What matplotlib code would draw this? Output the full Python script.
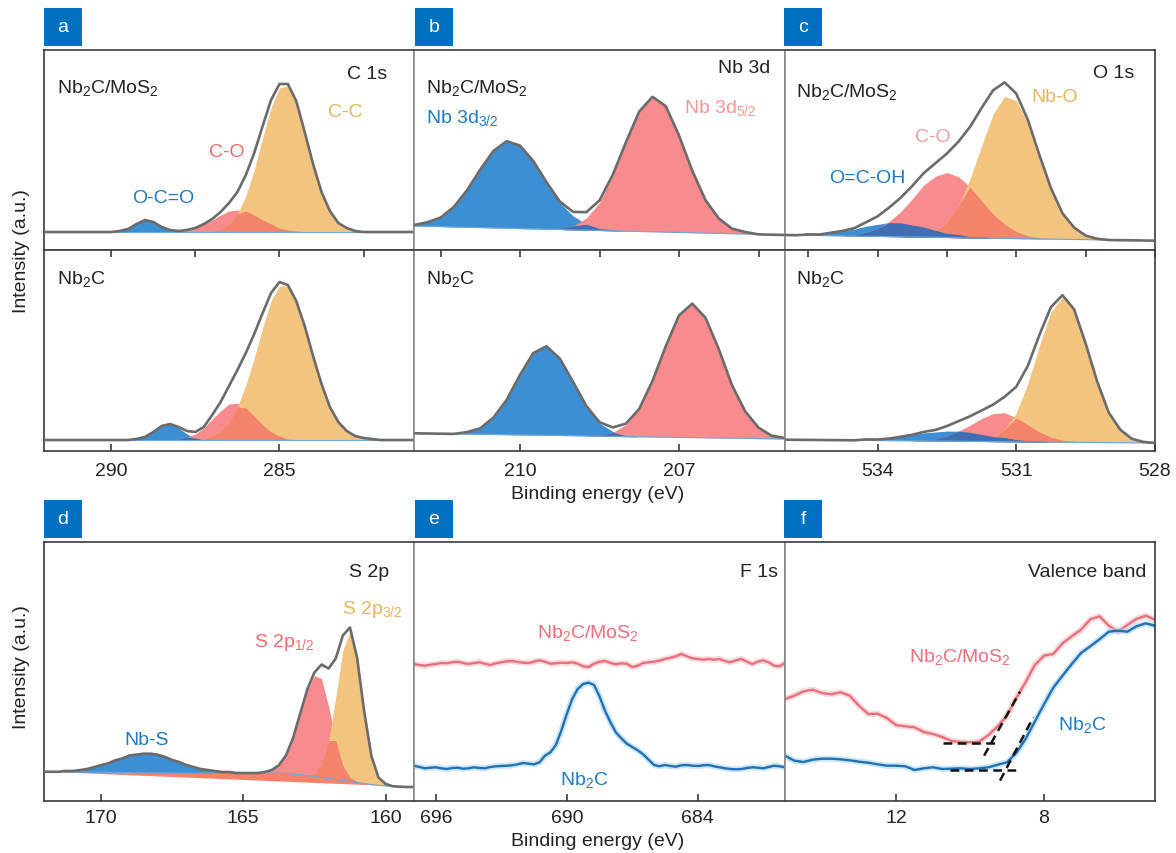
# XPS spectra panels a-f: fitted core levels (C 1s, Nb 3d, O 1s, S 2p), F 1s and valence band
import matplotlib.pyplot as plt
import matplotlib.patheffects as pe
from matplotlib.patches import Rectangle
import numpy as np

plt.rcParams['font.family'] = ['Liberation Sans', 'DejaVu Sans']
plt.rcParams['mathtext.fontset'] = 'custom'
plt.rcParams['mathtext.rm'] = 'Liberation Sans'
plt.rcParams['mathtext.default'] = 'regular'

# ---------------- data (intensity in arbitrary units) ----------------
# panel a, C 1s, energies 281.0 ... 292.0 every 0.25 eV
a_x = np.arange(281.0, 292.01, 0.25)
a_top_base = 18
a_top_cc = [0, 0, 0, 0, 0, 0, 0, 1, 4, 9, 21, 40, 68, 100, 130, 146, 144, 124, 94, 62, 36, 18, 8, 3, 1] + [0] * 20
a_top_co = [0] * 14 + [1, 2, 4, 8, 12, 17, 21, 22, 21, 17, 12, 8, 4, 2, 1] + [0] * 16
a_top_oco = [0] * 29 + [2, 5, 10, 12, 8, 3, 1] + [0] * 9
a_bot_base = 11
a_bot_cc = [0] * 5 + [1, 2, 4, 9, 18, 33, 56, 84, 114, 139, 154, 154, 139, 112, 82, 55, 33, 18, 9, 4, 1] + [0] * 19
a_bot_co = [0] * 15 + [1, 4, 8, 15, 24, 32, 37, 36, 29, 21, 12, 6, 3, 1] + [0] * 16
a_bot_oco = [0] * 26 + [2, 6, 12, 16, 14, 8, 3, 1] + [0] * 11

# panel b, Nb 3d, 205.0 ... 212.0
b_x = np.arange(205.0, 212.01, 0.25)
b_top_base = [15.0, 15.3, 15.6, 16.0, 16.3, 16.6, 16.9, 17.3, 17.6, 17.9, 18.2, 18.5, 18.9, 19.2, 19.5,
              19.8, 20.1, 20.5, 20.8, 21.1, 21.4, 21.8, 22.1, 22.4, 22.7, 23.0, 23.4, 23.7, 24.0]
b_top_32 = [0] * 13 + [1, 2, 6, 14, 27, 47, 68, 83, 87, 77, 58, 37, 20, 9, 4, 1]
b_top_52 = [0, 0, 0, 2, 5, 15, 33, 62, 97, 126, 135, 120, 89, 55, 28, 12, 4, 1] + [0] * 11
b_bot_base = [12.0, 12.2, 12.4, 12.6, 12.8, 13.0, 13.2, 13.4, 13.6, 13.8, 14.0, 14.2, 14.4, 14.6, 14.8,
              15.1, 15.3, 15.5, 15.7, 15.9, 16.1, 16.3, 16.5, 16.7, 16.9, 17.1, 17.3, 17.5, 17.7]
b_bot_32 = [0] * 12 + [1, 5, 13, 30, 54, 77, 89, 82, 60, 35, 17, 6, 2] + [0] * 4
b_bot_52 = [1, 3, 11, 27, 53, 89, 120, 134, 122, 91, 56, 28, 12, 4, 1] + [0] * 14

# panel c, O 1s, 528.0 ... 536.0
c_x = np.arange(528.0, 536.01, 0.25)
c_top_base = [9.3, 9.5, 9.7, 9.8, 10.0, 10.2, 10.4, 10.5, 10.7, 10.9, 11.1, 11.3, 11.4, 11.6, 11.8, 12.0, 12.1,
              12.3, 12.5, 12.7, 12.9, 13.0, 13.2, 13.4, 13.6, 13.7, 13.9, 14.1, 14.3, 14.5, 14.6, 14.8, 15.0]
c_top_nbo = [0] * 5 + [1, 4, 12, 26, 51, 83, 116, 138, 142, 124, 92, 59, 32, 15, 6, 2, 1] + [0] * 11
c_top_co = [0] * 10 + [1, 3, 7, 14, 24, 37, 51, 61, 65, 61, 52, 38, 25, 15, 8, 4, 1] + [0] * 6
c_top_ocoh = [0] * 15 + [1, 1, 3, 4, 7, 10, 12, 14, 14, 12, 10, 7, 5, 3, 1, 1] + [0] * 2
c_bot_base = [8.0, 8.1, 8.2, 8.3, 8.4, 8.5, 8.6, 8.7, 8.8, 8.9, 9.0, 9.1, 9.2, 9.3, 9.4, 9.5, 9.7,
              9.8, 9.9, 10.0, 10.1, 10.2, 10.3, 10.4, 10.5, 10.6, 10.7, 10.8, 10.9, 11.0, 11.1, 11.2, 11.3]
c_bot_nbo = [0, 1, 4, 13, 30, 61, 99, 132, 145, 130, 96, 58, 29, 12, 4, 1] + [0] * 17
c_bot_co = [0] * 7 + [1, 2, 5, 10, 17, 24, 29, 28, 23, 16, 10, 5, 2, 1] + [0] * 12
c_bot_ocoh = [0] * 10 + [1, 1, 2, 4, 5, 7, 9, 10, 10, 9, 8, 6, 4, 2, 1, 1] + [0] * 7

# panel d, S 2p, 159.0 ... 172.0
d_x = np.arange(159.0, 172.01, 0.25)
d_base = [14.0, 14.0, 14.3, 14.8, 15.1, 15.6, 16.5, 17.5, 18.5, 19.5, 20.5, 21.5, 22.5, 23.5, 24.5, 25.5,
          26.3, 27.0, 27.5, 27.8] + [28.0] * 14 + [28.1, 28.1, 28.2, 28.3, 28.3, 28.4, 28.5, 28.6, 28.6,
          28.7, 28.8, 28.8, 28.9, 28.9, 29.0, 29.1, 29.2, 29.2, 29.3]
d_line_x = [172.0, 160.14, 159.0]
d_line_y = [29.3, 15.3, 14.0]
d_nbs = [0] * 26 + [1, 1, 2, 3, 4, 6, 8, 11, 13, 16, 18, 19, 19, 18, 17, 14, 12, 9, 7, 5, 3, 2, 1, 1] + [0] * 3
d_s12 = [0] * 8 + [1, 4, 15, 39, 72, 99, 101, 85, 61, 36, 18, 8, 3, 1] + [0] * 31
d_s32 = [0] * 4 + [2, 8, 29, 72, 124, 150, 130, 82, 38, 14, 3, 1] + [0] * 37

# panel e, F 1s, 697 ... 680
e_x = np.linspace(697, 680, 69)
e_mos2 = [137.0, 136.0, 135.3, 136.3, 137.0, 138.0, 137.7, 138.7, 139.3, 138.0, 137.0, 138.0, 138.7, 137.3,
          136.0, 137.7, 138.7, 139.7, 140.0, 139.0, 138.3, 138.0, 139.3, 140.7, 139.3, 137.3, 137.7, 138.3,
          138.0, 138.7, 137.3, 134.7, 134.0, 137.3, 139.3, 140.0, 138.0, 136.7, 137.7, 137.3, 134.0, 135.3,
          138.0, 138.7, 139.3, 140.3, 142.0, 143.3, 144.7, 147.0, 144.7, 142.7, 142.0, 141.3, 142.0, 141.3,
          142.0, 140.0, 138.7, 140.7, 142.0, 139.3, 137.0, 139.3, 140.7, 138.7, 135.3, 134.7, 138.0]
e_nb2c = [35.3, 34.0, 32.7, 33.3, 33.7, 32.7, 32.0, 33.0, 33.3, 32.3, 32.7, 33.7, 33.0, 32.7, 34.0, 34.7,
          35.0, 35.3, 35.7, 36.7, 38.0, 37.3, 36.7, 38.7, 45.3, 48.7, 56.0, 70.3, 87.0, 102.0, 112.0, 117.0,
          118.3, 116.0, 104.7, 90.3, 78.7, 68.7, 62.7, 57.3, 54.0, 50.7, 46.7, 41.3, 36.0, 34.7, 36.0, 35.0,
          34.3, 35.7, 36.0, 35.3, 35.0, 35.7, 36.0, 34.7, 33.7, 32.7, 32.0, 31.7, 32.0, 33.0, 33.7, 33.3,
          32.7, 34.0, 35.3, 34.7, 33.7]

# panel f, valence band, 15 ... 5
f_x = np.linspace(15, 5, 41)
f_mos2 = [102, 105.3, 109.7, 111.3, 108, 106.7, 108.7, 105.3, 95.3, 87, 87.3, 83, 76, 74.7, 73.7, 69, 67,
          64, 60, 59, 58.7, 59.3, 66, 74.7, 85.3, 103, 118.7, 136, 145.3, 147, 157.7, 164.7, 171.3, 181.7,
          184.7, 175.3, 169.3, 176, 182, 185.3, 181.3]
f_nb2c = [45.3, 40.3, 39, 41.3, 42.3, 42.3, 41.7, 40.7, 39.3, 38.3, 36.7, 35.3, 35.3, 34.7, 31, 32.7, 33.7,
          32, 32.3, 32.7, 32, 32.7, 33.7, 36.3, 38.7, 48, 62, 79.3, 96.7, 113.3, 125.3, 137, 148, 154.7,
          161.7, 169.3, 170.3, 169.3, 174.7, 177.7, 175.3]
# onset construction lines (x0, x1, y0, y1)
f_guides = [(10.73, 9.33, 58, 58), (9.62, 8.65, 45.3, 109.3),
            (10.55, 8.65, 31.3, 31.3), (9.19, 8.29, 20.3, 83.7)]

# ---------------- styling ----------------
BLUE = '#3b8fd2'
PINK = '#f88b8d'
ORANGE = '#f3c47f'
PINK_ORANGE = '#f3836b'
BLUE_PINK = '#3f6fb2'
WEDGE = '#f4836a'
ENV = '#6b6b6b'
LINE_RED = '#e8707c'
LINE_BLUE = '#2070b4'
TXT_BLUE = '#1f7ac4'
TXT_RED = '#f26d6d'
TXT_ORANGE = '#e8b45c'
DARK = '#3a3a3a'
GREY = '#8a8a8a'

W, H = 1176, 854
fig = plt.figure(figsize=(W / 100, H / 100), dpi=100)


def px_axes(x0, y0, x1, y1):
    return fig.add_axes([x0 / W, 1 - y1 / H, (x1 - x0) / W, (y1 - y0) / H])


def ftext(x, y, s, color='#222222', ha='left', **kw):
    fig.text(x / W, 1 - y / H, s, color=color, ha=ha, va='baseline', fontsize=14, **kw)


def fit_panel(ax, x, base, comps, cols, pairs):
    base = np.asarray(base, dtype=float) * np.ones(len(x))
    comps = [np.asarray(c, dtype=float) for c in comps]
    for c, col in zip(comps, cols):
        ax.fill_between(x, base, base + c, color=col, lw=0, zorder=1)
    for i, j, col in pairs:
        ax.fill_between(x, base, base + np.minimum(comps[i], comps[j]), color=col, lw=0, zorder=2)
    ax.plot(x, base, color='#6aa8dc', lw=0.8, zorder=2)
    ax.plot(x, base + sum(comps), color=ENV, lw=1.9, zorder=3, solid_joinstyle='round')


def style(ax, col, ylim):
    ax.set_ylim(0, ylim)
    ax.set_yticks([])
    for side in ['top', 'bottom', 'left', 'right']:
        ax.spines[side].set_linewidth(1.2)
        ax.spines[side].set_color(DARK)
    if col > 0:
        ax.spines['left'].set_color(GREY)
    if col < 2:
        ax.spines['right'].set_color(GREY)


cols = [(44, 414), (414, 785), (785, 1155)]
xlims = [(292, 281), (212, 205), (536, 528)]
majors = [[290, 285], [210, 207], [534, 531, 528]]
minors = [[287.5, 282.5], [211.5, 208.5, 205.5], [535.5, 532.5, 529.5]]

top_data = [
    (a_x, a_top_base, [a_top_oco, a_top_co, a_top_cc], [BLUE, PINK, ORANGE], [(1, 2, PINK_ORANGE), (0, 1, BLUE_PINK)]),
    (b_x, b_top_base, [b_top_32, b_top_52], [BLUE, PINK], [(0, 1, BLUE_PINK)]),
    (c_x, c_top_base, [c_top_ocoh, c_top_co, c_top_nbo], [BLUE, PINK, ORANGE], [(1, 2, PINK_ORANGE), (0, 1, BLUE_PINK), (0, 2, BLUE_PINK)]),
]
bot_data = [
    (a_x, a_bot_base, [a_bot_oco, a_bot_co, a_bot_cc], [BLUE, PINK, ORANGE], [(1, 2, PINK_ORANGE), (0, 1, BLUE_PINK)]),
    (b_x, b_bot_base, [b_bot_32, b_bot_52], [BLUE, PINK], [(0, 1, BLUE_PINK)]),
    (c_x, c_bot_base, [c_bot_ocoh, c_bot_co, c_bot_nbo], [BLUE, PINK, ORANGE], [(1, 2, PINK_ORANGE), (0, 1, BLUE_PINK), (0, 2, BLUE_PINK)]),
]

for k in range(3):
    x0, x1 = cols[k]
    up = px_axes(x0, 51, x1, 251)
    lo = px_axes(x0, 251, x1, 452)
    fit_panel(up, *top_data[k])
    fit_panel(lo, *bot_data[k])
    for ax in (up, lo):
        ax.set_xlim(*xlims[k])
    style(up, k, 200)
    style(lo, k, 201)
    up.set_xticks([])
    lo.set_xticks(majors[k])
    lo.set_xticks(majors[k] + minors[k], minor=True)
    lo.tick_params(which='both', direction='in', top=True, bottom=True, length=5, width=1.2,
                   color=DARK, labelsize=14, labelcolor='#222222', pad=8)
    lo.tick_params(which='minor', bottom=False)

# bottom row
ad = px_axes(44, 543, 414, 802)
ad.fill(np.concatenate([d_x, d_line_x]), np.concatenate([d_base, d_line_y]), color=WEDGE, lw=0, zorder=1)
fit_panel(ad, d_x, d_base, [d_nbs, d_s12, d_s32], [BLUE, PINK, ORANGE], [(1, 2, PINK_ORANGE)])
ad.set_xlim(172, 159)
ad.set_xticks([170, 165, 160])

ae = px_axes(414, 543, 785, 802)
for yv, col, light in [(e_mos2, LINE_RED, '#f6b8bf'), (e_nb2c, LINE_BLUE, '#9fd0f0')]:
    ae.plot(e_x, yv, color=col, lw=1.7,
            path_effects=[pe.Stroke(linewidth=4.5, foreground=light, alpha=0.5), pe.Normal()])
ae.set_xlim(697, 680)
ae.set_xticks([696, 690, 684])

af = px_axes(785, 543, 1155, 802)
for yv, col, light in [(f_mos2, LINE_RED, '#f6b8bf'), (f_nb2c, LINE_BLUE, '#9fd0f0')]:
    af.plot(f_x, yv, color=col, lw=1.7,
            path_effects=[pe.Stroke(linewidth=4.5, foreground=light, alpha=0.5), pe.Normal()])
for gx0, gx1, gy0, gy1 in f_guides:
    af.plot([gx0, gx1], [gy0, gy1], color='#111111', lw=1.8, dashes=(3.5, 2.2), zorder=4)
af.set_xlim(15, 5)
af.set_xticks([12, 8])

for k, ax in enumerate([ad, ae, af]):
    style(ax, k, 259)
    ax.tick_params(direction='in', length=5, width=1.2, color=DARK, labelsize=14,
                   labelcolor='#222222', pad=6)

# panel letters
for lab, bx, by in [('a', 44, 9), ('b', 415, 9), ('c', 784, 9), ('d', 44, 501), ('e', 415, 501), ('f', 784, 501)]:
    fig.add_artist(Rectangle((bx / W, 1 - (by + 38) / H), 38 / W, 38 / H, transform=fig.transFigure,
                             color='#0070c0', lw=0))
    fig.text((bx + 19) / W, 1 - (by + 19) / H, lab, color='white', fontsize=14, ha='center', va='center')

# axis titles
fig.text(22 / W, 1 - 251 / H, 'Intensity (a.u.)', rotation=90, fontsize=14, ha='center', va='center', color='#222222')
fig.text(22 / W, 1 - 667 / H, 'Intensity (a.u.)', rotation=90, fontsize=14, ha='center', va='center', color='#222222')
fig.text(598 / W, 1 - 495 / H, 'Binding energy (eV)', fontsize=14, ha='center', va='center', color='#222222')
fig.text(598 / W, 1 - 842 / H, 'Binding energy (eV)', fontsize=14, ha='center', va='center', color='#222222')

# panel texts
MOS2 = r'Nb$_2$C/MoS$_2$'
NB2C = r'Nb$_2$C'
ftext(57, 93, MOS2)
ftext(387, 79, 'C 1s', ha='right')
ftext(345, 117, 'C-C', color=TXT_ORANGE, ha='center')
ftext(227, 157, 'C-O', color=TXT_RED, ha='center')
ftext(163, 203, 'O-C=O', color=TXT_BLUE, ha='center')
ftext(57, 284, NB2C)

ftext(426, 93, MOS2)
ftext(770, 73, 'Nb 3d', ha='right')
ftext(426, 123, r'Nb 3d$_{3/2}$', color=TXT_BLUE)
ftext(684, 113, r'Nb 3d$_{5/2}$', color='#f59898')
ftext(426, 284, NB2C)

ftext(796, 97, MOS2)
ftext(1134, 78, 'O 1s', ha='right')
ftext(1031, 102, 'Nb-O', color=TXT_ORANGE)
ftext(933, 142, 'C-O', color='#f59a9a', ha='center')
ftext(867, 183, 'O=C-OH', color=TXT_BLUE, ha='center')
ftext(796, 284, NB2C)

ftext(389, 577, 'S 2p', ha='right')
ftext(342, 614, r'S 2p$_{3/2}$', color=TXT_ORANGE)
ftext(254, 647, r'S 2p$_{1/2}$', color=TXT_RED)
ftext(147, 745, 'Nb-S', color=TXT_BLUE, ha='center')

ftext(778, 577, 'F 1s', ha='right')
ftext(588, 638, MOS2, color='#ee6f7a', ha='center')
ftext(584, 785, NB2C, color=TXT_BLUE, ha='center')

ftext(1146, 577, 'Valence band', ha='right')
ftext(960, 662, MOS2, color='#ee6f7a', ha='center')
ftext(1082, 730, NB2C, color=TXT_BLUE, ha='center')

plt.savefig('out.png', dpi=100)
